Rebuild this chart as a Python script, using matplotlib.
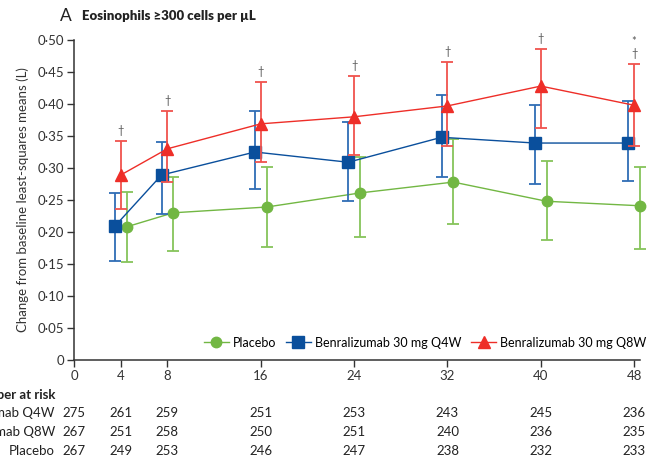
import matplotlib
matplotlib.use("Agg")
import matplotlib.pyplot as plt
import matplotlib.transforms as mtransforms

plt.rcParams['font.family'] = ['Lato', 'DejaVu Sans']

weeks = [4, 8, 16, 24, 32, 40, 48]

# least-squares mean change (L) with 95% CI
placebo = [0.208, 0.230, 0.239, 0.261, 0.278, 0.248, 0.241]
placebo_lo = [0.153, 0.170, 0.177, 0.192, 0.2125, 0.1875, 0.173]
placebo_hi = [0.2625, 0.286, 0.302, 0.317, 0.345, 0.311, 0.302]

q4w = [0.209, 0.289, 0.325, 0.309, 0.348, 0.339, 0.339]
q4w_lo = [0.155, 0.228, 0.267, 0.248, 0.286, 0.275, 0.280]
q4w_hi = [0.261, 0.341, 0.389, 0.372, 0.414, 0.398, 0.405]

q8w = [0.289, 0.330, 0.369, 0.380, 0.397, 0.428, 0.398]
q8w_lo = [0.236, 0.278, 0.309, 0.320, 0.334, 0.3625, 0.334]
q8w_hi = [0.342, 0.389, 0.434, 0.444, 0.466, 0.486, 0.4625]

series_labels = ['Placebo', 'Benralizumab 30 mg Q4W', 'Benralizumab 30 mg Q8W']

# significance marks above the Q8W bars
marks = ['†', '†', '†', '†', '†', '†', '*\n†']

risk_weeks = [0, 4, 8, 16, 24, 32, 40, 48]
risk_labels = ['Benralizumab Q4W', 'Benralizumab Q8W', 'Placebo']
risk_q4w = [275, 261, 259, 251, 253, 243, 245, 236]
risk_q8w = [267, 251, 258, 250, 251, 240, 236, 235]
risk_placebo = [267, 249, 253, 246, 247, 238, 232, 233]

green = '#72B743'
blue = '#0A4F9C'
red = '#EE2E28'

fig = plt.figure(figsize=(6.48, 4.62), dpi=100)
ax = fig.add_axes([74/648, 102/462, 566/648, 320/462])

def series(x, y, lo, hi, color, ecolor, marker, ms, z):
    yerr = [[v - l for v, l in zip(y, lo)], [h - v for v, h in zip(y, hi)]]
    c = ax.errorbar(x, y, yerr=yerr, color=color, ecolor=ecolor, marker=marker,
                    ms=ms, lw=1.0, elinewidth=1.3, capsize=4, capthick=1.3,
                    zorder=z, clip_on=False)
    return c[0]

h1 = series([w + 0.5 for w in weeks], placebo, placebo_lo, placebo_hi,
            green, '#86C45A', 'o', 7.5, 3)
h2 = series([w - 0.5 for w in weeks], q4w, q4w_lo, q4w_hi,
            blue, '#2F6DB5', 's', 8, 4)
h3 = series(weeks, q8w, q8w_lo, q8w_hi,
            red, '#F0534D', '^', 8.5, 5)

for w, h, m in zip(weeks, q8w_hi, marks):
    ax.text(w, h + 0.008, m, ha='center', va='bottom', fontsize=8,
            color='#555555', linespacing=1.1)

ax.set_xlim(0, 48.5)
ax.set_ylim(0, 0.5)
ax.set_xticks(risk_weeks)
ax.set_xticklabels([str(w) for w in risk_weeks])
yt = [i * 0.05 for i in range(11)]
ax.set_yticks(yt)
ax.set_yticklabels(['0' if v == 0 else f'{v:.2f}'.replace('.', '·') for v in yt])
ax.tick_params(labelsize=9.5, colors='#333333', length=5, width=1, pad=2)
for s in ['top', 'right']:
    ax.spines[s].set_visible(False)
for s in ['left', 'bottom']:
    ax.spines[s].set_color('#333333')
    ax.spines[s].set_linewidth(1.1)

ax.set_ylabel('Change from baseline least-squares means (L)', fontsize=9.5,
              color='#333333', labelpad=6)

ax.legend([h1, h2, h3], series_labels, loc='lower right', ncol=3, frameon=False,
          fontsize=9, handlelength=2.0, handletextpad=0.3, columnspacing=0.8,
          bbox_to_anchor=(1.02, 0.02), borderaxespad=0)

fig.text(60/648, 1 - 16/462, 'A', fontsize=12.5, color='#222222', va='center')
fig.text(82/648, 1 - 16/462, 'Eosinophils ≥300 cells per µL', fontsize=9.5,
         fontweight='heavy', color='#222222', va='center')

# number at risk table
trans = mtransforms.blended_transform_factory(ax.transData, fig.transFigure)
fig.text(55/648, 1 - 395/462, 'Number at risk', fontsize=9.5,
         fontweight='bold', color='#222222', ha='right', va='center')
rows = [risk_q4w, risk_q8w, risk_placebo]
for i, (lab, vals) in enumerate(zip(risk_labels, rows)):
    yy = 1 - (413 + 19 * i) / 462
    fig.text(55/648, yy, lab, fontsize=9.5, color='#222222',
             ha='right', va='center')
    for w, v in zip(risk_weeks, vals):
        ax.text(w, yy, str(v), transform=trans, fontsize=9.5,
                color='#222222', ha='center', va='center', clip_on=False)

fig.savefig('out.png', dpi=100)
